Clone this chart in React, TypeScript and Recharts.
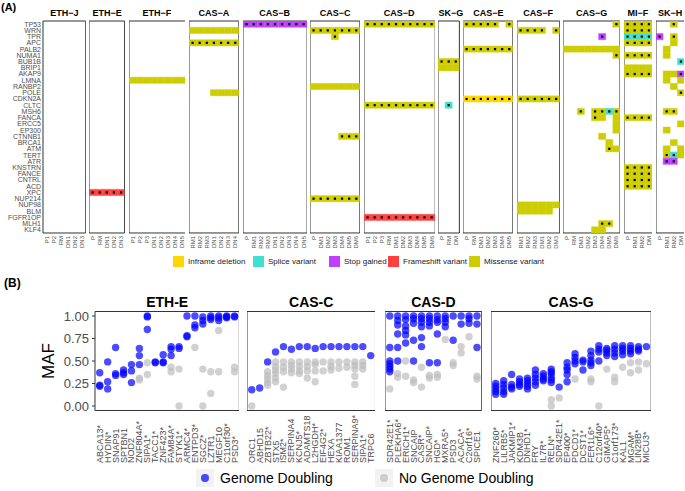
import { ScatterChart, Scatter, XAxis, YAxis, ReferenceArea } from "recharts";

// ---------- panel A: variant heatmap ----------
const GENES = [
  "TP53", "WRN", "TPR", "APC", "PALB2", "NUMA1", "BUB1B", "BRIP1", "AKAP9", "LMNA", "RANBP2", "POLE",
  "CDKN2A", "CLTC", "MSH6", "FANCA", "ERCC5", "EP300", "CTNNB1", "BRCA1", "ATM", "TERT", "ATR",
  "KNSTRN", "FANCE", "CNTRL", "ACD", "XPC", "NUP214", "NUP98", "BLM", "FGFR1OP", "MLH1", "KLF4",
];

// I = inframe deletion, S = splice, G = stop gained, F = frameshift, M = missense
const VARIANTS = [
  { key: "I", label: "Inframe deletion", color: "#FFD700" },
  { key: "S", label: "Splice variant", color: "#40E0D0" },
  { key: "G", label: "Stop gained", color: "#BF3EFF" },
  { key: "F", label: "Frameshift variant", color: "#FF4040" },
  { key: "M", label: "Missense variant", color: "#CDCD00" },
];

// [gene, variant, samples ("all" = every sample), has dot]
const FACETS = [
  { name: "ETH−J", samples: ["P1", "P2", "RM", "DN1", "DN2", "DN3"], cells: [] },
  { name: "ETH−E", samples: ["P", "RM", "DN1", "DN2", "DN3"], cells: [["XPC", "F", "all", 1]] },
  { name: "ETH−F", samples: ["P1", "P2", "P3", "DN1", "DN2", "DN3", "DN4", "DN5"], cells: [["LMNA", "M", "all", 0]] },
  {
    name: "CAS−A", samples: ["RM1", "RM2", "RM3", "DN1", "DN2", "DN3", "DN4"],
    cells: [["WRN", "M", "all", 0], ["APC", "M", "all", 1], ["POLE", "M", "DN1 DN2 DN3 DN4", 0]],
  },
  { name: "CAS−B", samples: ["P", "RM1", "RM2", "RM3", "DN1", "DN2", "DN3", "DN4", "DN5"], cells: [["TP53", "G", "all", 1]] },
  {
    name: "CAS−C", samples: ["P", "DM1", "DM2", "DM3", "DM4", "DM5", "DM6"],
    cells: [["WRN", "M", "all", 1], ["TPR", "M", "DM3", 1], ["RANBP2", "M", "all", 0], ["CTNNB1", "M", "DM4 DM5 DM6", 1], ["NUP214", "M", "all", 1]],
  },
  {
    name: "CAS−D", samples: ["P1", "P2", "P3", "RM", "DM1", "DM2", "DM3", "DM4", "DM5", "DM6"],
    cells: [["TP53", "M", "all", 1], ["CLTC", "M", "all", 1], ["FGFR1OP", "F", "all", 1]],
  },
  {
    name: "SK−G", samples: ["P", "RM", "DM"],
    cells: [["BUB1B", "M", "all", 1], ["BRIP1", "M", "all", 0], ["CLTC", "S", "RM", 1]],
  },
  {
    name: "CAS−E", samples: ["P", "RM", "DM1", "DM2", "DM3", "DM4", "DM5"],
    cells: [["TP53", "M", "P RM DM1 DM2 DM3 DM5", 1], ["PALB2", "M", "all", 1], ["CDKN2A", "I", "all", 1]],
  },
  {
    name: "CAS−F", samples: ["RM1", "RM2", "RM3", "DM1", "DM2", "DM3"],
    cells: [["WRN", "M", "RM1 RM2 RM3 DM1 DM3", 1], ["CDKN2A", "M", "all", 1], ["NUP98", "M", "all", 0], ["BLM", "M", "RM1 RM2 RM3 DM1 DM2", 0]],
  },
  {
    name: "CAS−G", samples: ["P", "RM", "DM1", "DM2", "DM3", "DM4", "DM5", "DM6"],
    cells: [
      ["TP53", "M", "DM6", 1], ["TPR", "G", "DM4", 1], ["PALB2", "M", "all", 0], ["NUMA1", "M", "DM6", 1],
      ["MSH6", "M", "DM1 DM3 DM4 DM6", 1], ["MSH6", "S", "DM5", 1], ["FANCA", "M", "DM3", 1], ["FANCA", "M", "DM4 DM6", 0],
      ["ERCC5", "M", "DM6", 0], ["EP300", "M", "DM6", 0], ["CTNNB1", "M", "DM4", 0], ["BRCA1", "M", "DM5", 0],
      ["ATM", "M", "DM5", 1], ["ATM", "M", "DM6", 0], ["MLH1", "M", "DM4 DM5", 1], ["KLF4", "M", "DM3 DM4", 0],
    ],
  },
  {
    name: "MI−F", samples: ["P", "RM1", "RM2", "DM"],
    cells: [
      ["TP53", "M", "all", 1], ["WRN", "M", "all", 1], ["TPR", "S", "all", 1], ["APC", "M", "all", 1], ["NUMA1", "M", "all", 1],
      ["BRIP1", "M", "all", 0], ["AKAP9", "M", "all", 1], ["FANCA", "M", "all", 1], ["KNSTRN", "M", "all", 1],
      ["FANCE", "M", "all", 1], ["CNTRL", "M", "all", 1], ["ACD", "M", "all", 1],
    ],
  },
  {
    name: "SK−H", samples: ["P", "RM1", "RM2", "DM"],
    cells: [
      ["TP53", "M", "RM2", 1], ["TPR", "G", "P", 1], ["TPR", "M", "RM2", 1], ["APC", "M", "RM2", 0],
      ["PALB2", "M", "RM1", 0], ["NUMA1", "M", "RM1", 0], ["BUB1B", "S", "DM", 1], ["AKAP9", "M", "RM1 RM2", 0],
      ["AKAP9", "G", "DM", 1], ["LMNA", "M", "RM1 DM", 0], ["RANBP2", "M", "RM2", 0], ["POLE", "M", "DM", 1],
      ["MSH6", "M", "RM1 RM2", 1], ["ERCC5", "M", "DM", 0], ["EP300", "M", "RM1", 0], ["BRCA1", "M", "RM2", 0],
      ["ATM", "M", "RM1 DM", 0], ["TERT", "M", "RM1", 1], ["TERT", "S", "RM2", 1], ["TERT", "M", "DM", 0],
      ["ATR", "G", "RM1 RM2", 1],
    ],
  },
];

// ---------- panel B: MAF per gene ----------
const ETHE_GENES = ["ABCA13*", "HYDIN*", "SNAP91", "SPTBN1", "NOD2", "ZNF804A*", "SIPA1*", "TACC1*", "ZNF423*", "FAM84A*", "STYK1*", "ARMC4*", "ENTPD3*", "SGCZ*", "LZTR1", "MEGF10", "C11orf30*", "PSD3*"];
const ETHE_GD = [[0.37, 0.23, 0.22], [0.49, 0.27, 0.19], [0.65, 0.36, 0.34], [0.4, 0.37, 0.35], [0.46, 0.39, 0.26], [0.64, 0.56, 0.46], [1.0, 0.99, 0.85], [0.49, 0.48], [0.57, 0.49, 0.48], [0.66, 0.63, 0.56], [0.66, 0.64], [1.0, 0.78, 0.77], [1.0, 0.9, 0.87], [0.99, 0.95, 0.91], [1.0, 0.98, 0.96], [1.0, 0.98, 0.95], [1.0, 0.99, 0.98], [1.0, 0.99]];
const ETHE_NOGD = [[], [], [], [], [], [0.31, 0.29], [0.48, 0.35], [], [], [0.43, 0.38], [0.41, 0.0], [], [0.65], [0.41, 0.0], [0.38, 0.14], [0.84, 0.38], [], [0.43, 0.38]];

const CASC_GENES = ["ORC1", "ABHD15", "ZBTB22*", "STX5", "ISM2*", "SERPINA4", "KCNJ5*", "ADAMTS18", "L2HGDH*", "EIF4G2*", "HEXA", "KIAA1377", "ROM1", "SERPINA9*", "SIPA1*", "TRPC6"];
const CASC_GD = [[0.18], [0.2], [0.49], [0.6], [0.66], [0.63], [0.66], [0.66], [0.64], [0.66], [0.66], [0.66], [0.66], [0.66], [0.66], [0.56]];
const CASC_NOGD = [[0.0], [], [0.38, 0.34, 0.3, 0.26, 0.23], [0.49, 0.44, 0.4, 0.36, 0.31, 0.27], [0.49, 0.43, 0.38, 0.21], [0.49, 0.45, 0.41, 0.37], [0.49, 0.44, 0.39, 0.36], [0.49, 0.44, 0.39, 0.31], [0.49, 0.46, 0.39, 0.27], [0.49, 0.39], [0.49, 0.44, 0.4], [0.49, 0.42], [0.49, 0.43], [0.49, 0.45, 0.41, 0.33, 0.24], [0.49, 0.45, 0.41], []];

const CASD_GENES = ["SDR42E1*", "PLEKHA6*", "ERICH1*", "SNCAIP", "CASR*", "SNCAIP*", "HGD*", "MXRA5*", "PSD3", "ACACA*", "C2orf16*", "SPICE1"];
const CASD_GD = [[1.0, 0.65, 0.5, 0.47, 0.44, 0.41, 0.38], [1.0, 0.95, 0.9, 0.8, 0.65, 0.5], [1.0, 0.96, 0.89, 0.84, 0.79, 0.7], [1.0, 0.97, 0.92, 0.73, 0.5], [1.0, 0.97, 0.93, 0.88, 0.76, 0.66], [1.0, 0.97, 0.93, 0.89, 0.48], [1.0, 0.96, 0.93, 0.8, 0.48], [1.0, 0.97, 0.93, 0.88], [1.0, 0.73], [1.0, 0.91], [1.0, 0.97, 0.92], [1.0, 0.91, 0.65]];
const CASD_NOGD = [[0.19], [0.36, 0.32], [0.5, 0.33], [0.29, 0.26], [0.43, 0.21], [0.34, 0.31], [0.35, 0.32], [0.74], [0.48, 0.45], [0.66, 0.59], [0.77], [0.33, 0.3]];

const CASG_GENES = ["ZNF260*", "LILRB5*", "JAKMIP1*", "KDM3B", "DNHD1*", "FRY", "IL7R*", "RELN*", "SDR42E1*", "EP400*", "PDCD1*", "DCST1*", "FER1L6*", "C12orf40*", "GIMAP5*", "C1orf173*", "KAL1", "MGAM*", "LIN28B*", "MICU3*"];
const CASG_GD = [[0.25, 0.22, 0.19, 0.16, 0.13], [0.28, 0.24, 0.2, 0.16, 0.13], [0.35, 0.24, 0.21, 0.19], [0.3, 0.27, 0.24, 0.22], [0.31, 0.28, 0.25, 0.22, 0.19], [0.4, 0.35, 0.31, 0.27, 0.23], [0.36, 0.33, 0.3, 0.28], [0.41, 0.38, 0.36, 0.32, 0.29, 0.26], [0.21], [0.48, 0.43, 0.4, 0.35, 0.27], [0.58, 0.54, 0.5, 0.47], [0.51, 0.49, 0.4], [0.61, 0.56, 0.51, 0.48, 0.45], [0.67, 0.63, 0.6, 0.5], [0.64, 0.62, 0.59, 0.56], [0.67, 0.63, 0.59, 0.55], [0.67, 0.64, 0.61, 0.57], [0.67, 0.64, 0.61, 0.58], [0.66, 0.63, 0.61], [0.66]];
const CASG_NOGD = [[], [], [], [], [], [], [], [0.07, 0.0], [0.09], [], [0.3], [], [0.3, 0.27], [0.0], [0.41], [0.32, 0.27], [0.43], [0.48, 0.37], [0.49, 0.4], [0.47]];

const MAF_TICKS = [0, 0.25, 0.5, 0.75, 1];

// ---------- layout ----------
const FONT = "'Liberation Sans', Arial, Helvetica, sans-serif";
const A_LEFT = 43;
const A_COLW = 7.12;
const A_GAP = 3.6;
const A_TOP = 21;
const A_ROWH = 6.235;
const A_H = 255;
const A_GENE_W = 43;

const B_TOP = 306;
const B_PAD = 5.5;
const B_PLOT_H = 99;
const B_H = 160;
const B_UNIT = 7.93;
const B_YAXIS_W = 95;

const colorOf = (k: string) => VARIANTS.find((v) => v.key === k)!.color;
const seq = (n: number) => Array.from({ length: n }, (_, i) => i);

function cellsOf(f: any) {
  const out: any[] = [];
  for (const [gene, type, samples, dot] of f.cells) {
    const list = samples === "all" ? f.samples : samples.split(" ");
    for (const s of list) out.push({ x: f.samples.indexOf(s), y: GENES.indexOf(gene), type, dot });
  }
  return out;
}

const cellShape = (p: any) => (
  <g>
    <rect
      x={p.cx - A_COLW / 2}
      y={p.cy - A_ROWH / 2}
      width={A_COLW}
      height={A_ROWH}
      fill={colorOf(p.payload.type)}
      stroke={colorOf(p.payload.type)}
      strokeOpacity={0.35}
      strokeWidth={1}
    />
    {p.payload.dot ? <rect x={p.cx - 1.1} y={p.cy - 1.1} width={2.2} height={2.2} fill="#000" /> : null}
  </g>
);

function HeatFacet({ facet, left, showGenes }: any) {
  const n = facet.samples.length;
  const yw = showGenes ? A_GENE_W : 0;
  const tick = (p: any) => (
    <text
      x={p.x}
      y={p.y + 3}
      transform={`rotate(-90 ${p.x} ${p.y + 3})`}
      textAnchor="end"
      dominantBaseline="central"
      fontSize={6}
      fill="#4D4D4D"
    >
      {facet.samples[p.payload.value]}
    </text>
  );
  return (
    <div style={{ position: "absolute", left: left - yw, top: 0 }}>
      <ScatterChart width={n * A_COLW + yw} height={A_H} margin={{ top: A_TOP, right: 0, bottom: 0, left: 0 }}>
        <XAxis
          type="number"
          dataKey="x"
          domain={[-0.5, n - 0.5]}
          ticks={seq(n)}
          interval={0}
          height={A_H - A_TOP - 34 * A_ROWH}
          axisLine={false}
          tickLine={false}
          tickSize={0}
          tickMargin={0}
          tick={tick}
          allowDataOverflow
        />
        <YAxis
          type="number"
          dataKey="y"
          domain={[-0.5, GENES.length - 0.5]}
          reversed
          hide={!showGenes}
          width={yw}
          ticks={seq(GENES.length)}
          interval={0}
          tickFormatter={(v: number) => GENES[v]}
          axisLine={false}
          tickLine={false}
          tickSize={0}
          tickMargin={2}
          tick={{ fontSize: 7, fill: "#4D4D4D" }}
          allowDataOverflow
        />
        <Scatter data={cellsOf(facet)} shape={cellShape} isAnimationActive={false} />
        <ReferenceArea
          x1={-0.5}
          x2={n - 0.5}
          y1={-0.5}
          y2={GENES.length - 0.5}
          fill="none"
          stroke="#333"
          strokeWidth={1}
          ifOverflow="visible"
        />
      </ScatterChart>
    </div>
  );
}

function MafFacet({ title, genes, gd, nogd, left, yAxis }: any) {
  const n = genes.length;
  const plotW = (n + 0.2) * B_UNIT;
  const yw = yAxis ? B_YAXIS_W : 0;
  const toPts = (vals: number[][]) => vals.flatMap((list, i) => list.map((v) => ({ x: i + 1, y: v })));
  const tick = (p: any) => {
    const by = B_H - 3;
    return (
      <text
        x={p.x}
        y={by}
        transform={`rotate(-90 ${p.x} ${by})`}
        textAnchor="start"
        dominantBaseline="central"
        fontSize={9}
        fill="#4D4D4D"
      >
        {genes[p.payload.value - 1]}
      </text>
    );
  };
  return (
    <>
      <div
        style={{
          position: "absolute", left, top: 294, width: plotW, textAlign: "center",
          fontWeight: "bold", fontSize: 14, lineHeight: "16px",
        }}
      >
        {title}
      </div>
      <div style={{ position: "absolute", left: left - yw, top: B_TOP }}>
        <ScatterChart width={plotW + yw} height={B_H} margin={{ top: B_PAD, right: 0, bottom: 0, left: 0 }}>
          <XAxis
            type="number"
            dataKey="x"
            domain={[0.4, n + 0.6]}
            ticks={seq(n).map((i) => i + 1)}
            interval={0}
            height={B_H - B_PAD - B_PLOT_H}
            axisLine={false}
            tickLine={false}
            tick={tick}
            allowDataOverflow
          />
          <YAxis
            type="number"
            dataKey="y"
            domain={[-0.05, 1.05]}
            ticks={MAF_TICKS}
            interval={0}
            hide={!yAxis}
            width={yw}
            tickFormatter={(v: number) => v.toFixed(2)}
            axisLine={false}
            tickSize={3}
            tickMargin={3}
            tickLine={{ stroke: "#333" }}
            tick={{ fontSize: 13, fill: "#4D4D4D" }}
            label={yAxis ? { value: "MAF", angle: -90, position: "center", fontSize: 17, fill: "#000" } : undefined}
            allowDataOverflow
          />
          <Scatter
            data={toPts(nogd)}
            isAnimationActive={false}
            shape={(p: any) => <circle cx={p.cx} cy={p.cy} r={3.7} fill="#BEBEBE" fillOpacity={0.7} />}
          />
          <Scatter
            data={toPts(gd)}
            isAnimationActive={false}
            shape={(p: any) => <circle cx={p.cx} cy={p.cy} r={3.7} fill="#0000FF" fillOpacity={0.7} />}
          />
          <ReferenceArea
            x1={0.4}
            x2={n + 0.6}
            y1={-0.05}
            y2={1.05}
            fill="none"
            stroke="#333"
            strokeWidth={1}
            ifOverflow="visible"
          />
        </ScatterChart>
      </div>
    </>
  );
}

const A_LEGEND_X = [173, 253, 329, 388, 469];
const B_PANEL_X = [95, 247, 385, 491];

export default function App() {
  let x = A_LEFT;
  const lefts = FACETS.map((f) => {
    const l = x;
    x += f.samples.length * A_COLW + A_GAP;
    return l;
  });
  return (
    <div style={{ position: "relative", width: 685, height: 491, overflow: "hidden", background: "#fff", fontFamily: FONT, color: "#000" }}>
      <style>{"body{margin:0}"}</style>
      <div style={{ position: "absolute", left: 1, top: 1, fontWeight: "bold", fontSize: 11 }}>(A)</div>
      {FACETS.map((f, i) => (
        <div key={"t" + f.name}>
          <div
            style={{
              position: "absolute", left: lefts[i], top: 8, width: f.samples.length * A_COLW,
              textAlign: "center", fontWeight: "bold", fontSize: 9, lineHeight: "11px", whiteSpace: "nowrap",
            }}
          >
            {f.name}
          </div>
          <HeatFacet facet={f} left={lefts[i]} showGenes={i === 0} />
        </div>
      ))}
      {VARIANTS.map((v, i) => (
        <div key={v.key} style={{ position: "absolute", left: A_LEGEND_X[i], top: 256, display: "flex", alignItems: "center", gap: 4 }}>
          <div style={{ width: 11, height: 11, background: v.color }} />
          <span style={{ fontSize: 8, color: "#1A1A1A" }}>{v.label}</span>
        </div>
      ))}

      <div style={{ position: "absolute", left: 4, top: 276, fontWeight: "bold", fontSize: 12 }}>(B)</div>
      <MafFacet title="ETH-E" genes={ETHE_GENES} gd={ETHE_GD} nogd={ETHE_NOGD} left={B_PANEL_X[0]} yAxis />
      <MafFacet title="CAS-C" genes={CASC_GENES} gd={CASC_GD} nogd={CASC_NOGD} left={B_PANEL_X[1]} />
      <MafFacet title="CAS-D" genes={CASD_GENES} gd={CASD_GD} nogd={CASD_NOGD} left={B_PANEL_X[2]} />
      <MafFacet title="CAS-G" genes={CASG_GENES} gd={CASG_GD} nogd={CASG_NOGD} left={B_PANEL_X[3]} />

      {[
        { x: 196, color: "#0000FF", label: "Genome Doubling" },
        { x: 375, color: "#BEBEBE", label: "No Genome Doubling" },
      ].map((k) => (
        <div key={k.label} style={{ position: "absolute", left: k.x, top: 469, display: "flex", alignItems: "center", gap: 6 }}>
          <div style={{ width: 18, height: 18, background: "#F2F2F2", display: "flex", alignItems: "center", justifyContent: "center" }}>
            <div style={{ width: 7.4, height: 7.4, borderRadius: "50%", background: k.color, opacity: 0.7 }} />
          </div>
          <span style={{ fontSize: 14, lineHeight: "18px" }}>{k.label}</span>
        </div>
      ))}
    </div>
  );
}
